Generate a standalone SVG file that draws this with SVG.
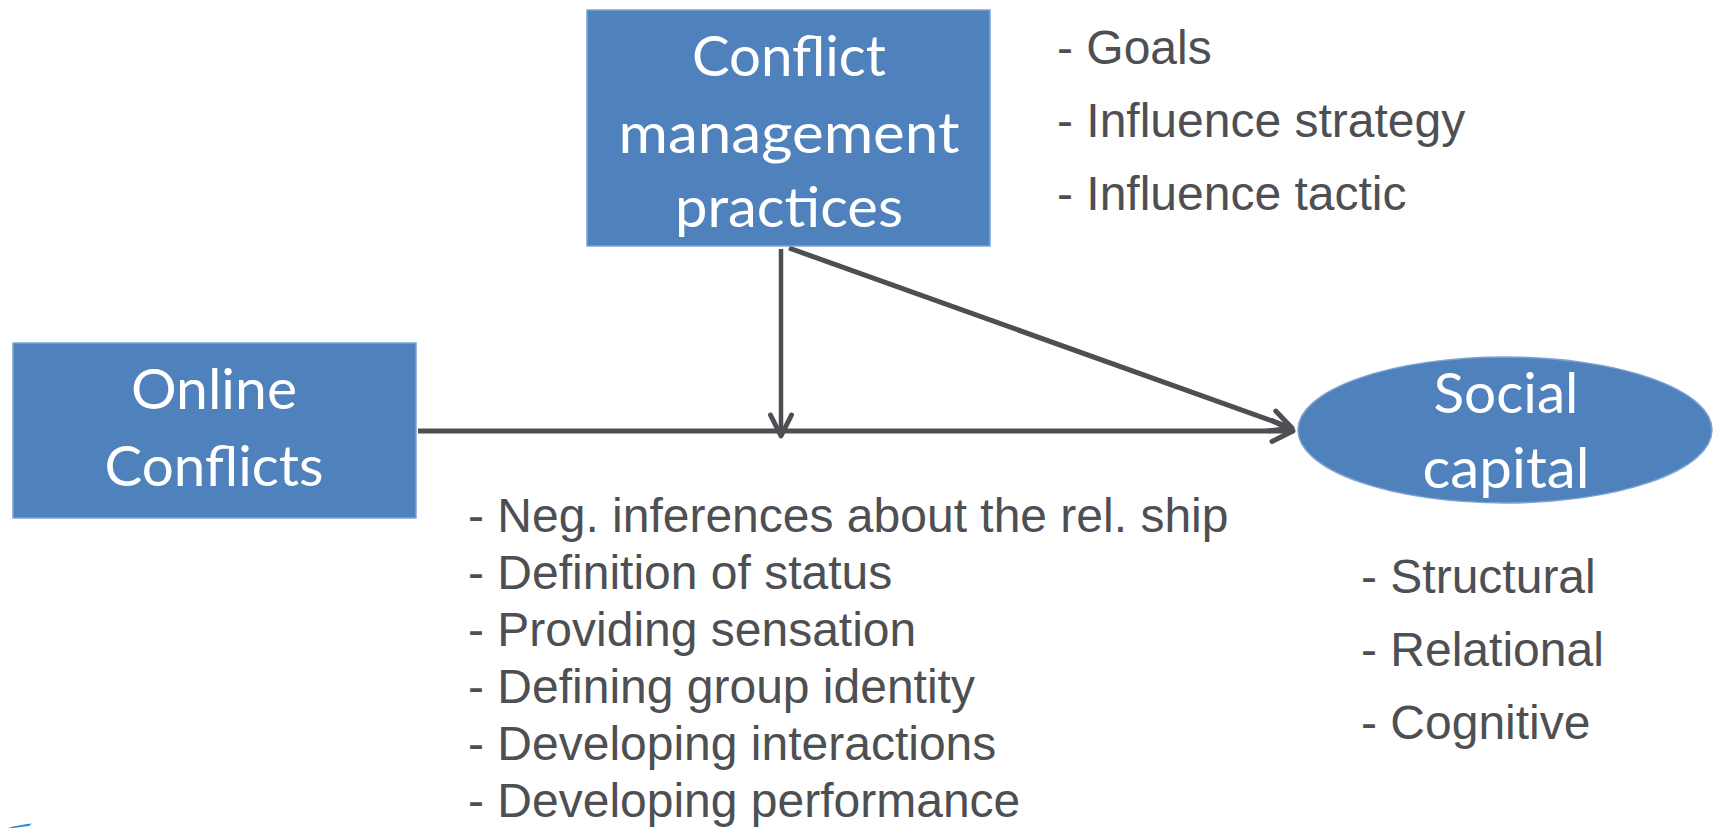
<svg xmlns="http://www.w3.org/2000/svg" width="1714" height="828" viewBox="0 0 1714 828">
<style>
.node{fill:#4F81BD;stroke:#7EA3D2;stroke-width:1.5}
.ntxt{font-family:Lato,"Open Sans","Noto Sans",sans-serif;font-size:56px;fill:#FFFFFF;text-anchor:middle}
.lst{font-family:"Liberation Sans",Arial,sans-serif;font-size:48px;fill:#4E4F53}
.conn{stroke:#4E4F53;fill:none;stroke-linecap:butt}
</style>
<defs>
<marker id="chev" markerUnits="userSpaceOnUse" markerWidth="40" markerHeight="40" viewBox="-30 -20 40 40" refX="0" refY="0" orient="auto">
<path d="M-21,-10.5 L0,0 L-21,10.5" fill="none" stroke="#4E4F53" stroke-width="5" stroke-linecap="round" stroke-linejoin="round"/>
</marker>
</defs>
<rect width="1714" height="828" fill="#FFFFFF"/>
<g id="connectors">
<line class="conn" x1="418" y1="431" x2="1293" y2="431" stroke-width="5" marker-end="url(#chev)"/>
<line class="conn" x1="781" y1="249" x2="781" y2="436" stroke-width="4.5" marker-end="url(#chev)"/>
<line class="conn" x1="789" y1="248" x2="1292" y2="428" stroke-width="5" marker-end="url(#chev)"/>
</g>
<g id="node-conflict-management">
<rect class="node" x="587" y="10" width="403" height="236"/>
<text class="ntxt" x="789" y="76" textLength="194" lengthAdjust="spacingAndGlyphs">Conflict</text>
<text class="ntxt" x="789" y="153" textLength="341" lengthAdjust="spacingAndGlyphs">management</text>
<text class="ntxt" x="789" y="227" textLength="228" lengthAdjust="spacingAndGlyphs">practices</text>
</g>
<g id="node-online-conflicts">
<rect class="node" x="13" y="343" width="403" height="175"/>
<text class="ntxt" x="214" y="409" textLength="166" lengthAdjust="spacingAndGlyphs">Online</text>
<text class="ntxt" x="214" y="486" textLength="219" lengthAdjust="spacingAndGlyphs">Conflicts</text>
</g>
<g id="node-social-capital">
<ellipse class="node" cx="1505" cy="430" rx="207" ry="73"/>
<text class="ntxt" x="1506" y="413" textLength="145" lengthAdjust="spacingAndGlyphs">Social</text>
<text class="ntxt" x="1506" y="488" textLength="167" lengthAdjust="spacingAndGlyphs">capital</text>
</g>
<g id="list-practices">
<text class="lst" x="1057" y="64">- Goals</text>
<text class="lst" x="1057" y="137">- Influence strategy</text>
<text class="lst" x="1057" y="210">- Influence tactic</text>
</g>
<g id="list-conflicts">
<text class="lst" x="468" y="532">- Neg. inferences about the rel. ship</text>
<text class="lst" x="468" y="589">- Definition of status</text>
<text class="lst" x="468" y="646">- Providing sensation</text>
<text class="lst" x="468" y="703">- Defining group identity</text>
<text class="lst" x="468" y="760">- Developing interactions</text>
<text class="lst" x="468" y="817">- Developing performance</text>
</g>
<g id="list-capital">
<text class="lst" x="1361" y="593">- Structural</text>
<text class="lst" x="1361" y="666">- Relational</text>
<text class="lst" x="1361" y="739">- Cognitive</text>
</g>
<path d="M8,828 Q18,825 32,823.5 L29,826 Q20,827 14,828 Z" fill="#2B8CD6"/>
</svg>
